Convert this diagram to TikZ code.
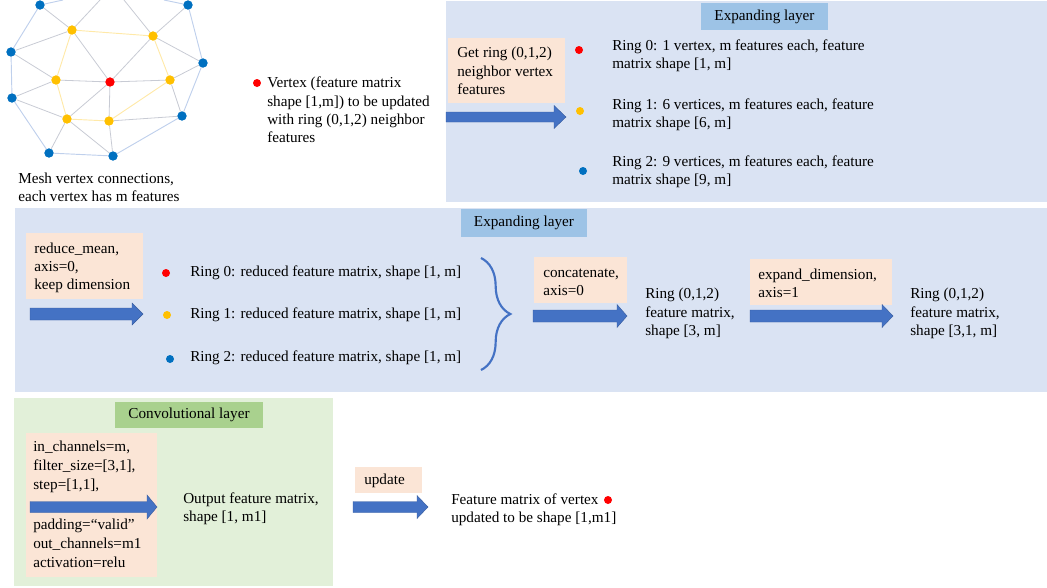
\documentclass[tikz,border=0pt]{standalone}
\usepackage{fontspec}
\setmainfont{Liberation Serif}
\usetikzlibrary{decorations.pathreplacing}
\definecolor{panelblue}{HTML}{DAE3F3}
\definecolor{titleblue}{HTML}{9DC3E6}
\definecolor{peach}{HTML}{FBE5D6}
\definecolor{panelgreen}{HTML}{E2F0D9}
\definecolor{titlegreen}{HTML}{A9D18E}
\definecolor{arrowblue}{HTML}{4472C4}
\definecolor{vred}{HTML}{FF0000}
\definecolor{vyellow}{HTML}{FFC000}
\definecolor{vblue}{HTML}{0070C0}
\definecolor{edgegray}{HTML}{C8CBD4}
\definecolor{edgeblue}{HTML}{BFD0EC}
\definecolor{edgeyellow}{HTML}{FFE9A8}
\tikzset{
  txt/.style={inner sep=0pt, anchor=west, align=left, text=black,
    font=\fontsize{11.4}{13.7}\selectfont},
  ctxt/.style={inner sep=0pt, anchor=center, text=black,
    font=\fontsize{11.4}{13.7}\selectfont},
  dotr/.style={circle, fill=vred, inner sep=0pt, minimum size=6pt},
  doty/.style={circle, fill=vyellow, inner sep=0pt, minimum size=6pt},
  dotb/.style={circle, fill=vblue, inner sep=0pt, minimum size=6pt},
  mr/.style={circle, fill=vred, inner sep=0pt, minimum size=6.8pt},
  my/.style={circle, fill=vyellow, inner sep=0pt, minimum size=6.8pt},
  mb/.style={circle, fill=vblue, inner sep=0pt, minimum size=6.8pt},
  eg/.style={draw=edgegray, line width=0.6pt},
  eb/.style={draw=edgeblue, line width=0.7pt},
  ey/.style={draw=edgeyellow, line width=0.7pt},
  bigarrow/.style={fill=arrowblue, draw=arrowblue!80!black, line width=0.3pt},
}
% block arrow: x-start, x-tip, y-centre, head-start x, shaft half, head half
\newcommand\blockarr[6]{%
  \path[bigarrow] (#1,#3-#5) -- (#4,#3-#5) -- (#4,#3-#6) -- (#2,#3)
    -- (#4,#3+#6) -- (#4,#3+#5) -- (#1,#3+#5) -- cycle;}
\begin{document}
\begin{tikzpicture}[x=0.75pt,y=-0.75pt]
\useasboundingbox (0,0) rectangle (1047,587);

% ---------- panels ----------
\fill[panelblue] (446,1) rectangle (1047,202);
\fill[panelblue] (15,208) rectangle (1047,392);
\fill[panelgreen] (14,398) rectangle (333,586);

% ---------- mesh ----------
\coordinate (t1) at (63,0);
\coordinate (t2) at (100,0);
\coordinate (t3) at (124,0);
\coordinate (t4) at (164,0);
\node[mb] (b1) at (40,5) {};
\node[mb] (b2) at (188,5) {};
\node[mb] (b3) at (11,52) {};
\node[mb] (b4) at (203,63) {};
\node[mb] (b5) at (12,98) {};
\node[mb] (b6) at (182,116) {};
\node[mb] (b7) at (49,153) {};
\node[mb] (b8) at (113,156) {};
\node[my] (y1) at (72,30) {};
\node[my] (y2) at (153,36) {};
\node[my] (y3) at (56,80) {};
\node[my] (y4) at (170,80) {};
\node[my] (y5) at (67,119) {};
\node[my] (y6) at (109,121) {};
\node[mr] (r0) at (110,82) {};
\path[eb] (t1) -- (b1.center) -- (b3.center) -- (b5.center) -- (b7.center) -- (b8.center) -- (b6.center) -- (b4.center) -- (b2.center) -- (t4);
\path[ey] (y1.center) -- (y2.center) -- (y4.center) -- (y6.center) -- (y5.center) -- (y3.center) -- cycle;
\foreach \a/\b in {r0/y1,r0/y2,r0/y3,r0/y4,r0/y5,r0/y6,
  y1/b1,y1/b3,y3/b3,y3/b5,y5/b5,y5/b7,y5/b8,y6/b8,y6/b6,y4/b6,y4/b4,y2/b4,y2/b2}
  \path[eg] (\a) -- (\b);
\path[eg] (y1) -- (t2);
\path[eg] (y2) -- (t3);
% vertices on top of the edges
\foreach \n/\s in {b1/mb,b2/mb,b3/mb,b4/mb,b5/mb,b6/mb,b7/mb,b8/mb,
  y1/my,y2/my,y3/my,y4/my,y5/my,y6/my,r0/mr}
  \node[\s] at (\n) {};

\node[txt] (meshcap) at (18,187) {Mesh vertex connections,\\each vertex has m features};

% ---------- vertex legend ----------
\node[dotr] (vdot) at (257,83) {};
\node[txt] (vtext) at (267,110) {Vertex (feature matrix\\shape [1,m]) to be updated\\with ring (0,1,2) neighbor\\features};

% ---------- top panel ----------
\fill[titleblue] (701,3) rectangle (828,30);
\node[ctxt] (toptitle) at (764.5,17) {Expanding layer};
\fill[peach] (448,38) rectangle (565,103);
\node[txt] (getring) at (457,71) {Get ring (0,1,2)\\neighbor vertex\\features};
\blockarr{446}{566}{117}{554}{5}{11.5}
\node[dotr] (d0) at (579,50) {};
\node[doty] (d1) at (580,111) {};
\node[dotb] (d2) at (583,171) {};
\node[txt] (ring0) at (612,56) {Ring 0: 1 vertex, m features each, feature\\matrix shape [1, m]};
\node[txt] (ring1) at (612,114.5) {Ring 1: 6 vertices, m features each, feature\\matrix shape [6, m]};
\node[txt] (ring2) at (612,172) {Ring 2: 9 vertices, m features each, feature\\matrix shape [9, m]};

% ---------- middle panel ----------
\fill[titleblue] (461,209) rectangle (587,237);
\node[ctxt] (midtitle) at (524,223) {Expanding layer};
\fill[peach] (26,233) rectangle (143,299);
\node[txt] (reduce) at (34,268) {reduce\_mean,\\axis=0,\\keep dimension};
\blockarr{30}{143}{314}{132}{6}{11}
\node[dotr] (m0) at (166,273) {};
\node[doty] (m1) at (167,315) {};
\node[dotb] (m2) at (170,359) {};
\node[txt] (red0) at (190,273) {Ring 0: reduced feature matrix, shape [1, m]};
\node[txt] (red1) at (190,315) {Ring 1: reduced feature matrix, shape [1, m]};
\node[txt] (red2) at (190,358) {Ring 2: reduced feature matrix, shape [1, m]};
\coordinate (brtop) at (481,258);
\coordinate (brbot) at (481,370);
\draw[arrowblue, line width=1.6pt, decorate,
  decoration={brace, amplitude=22pt, aspect=0.5}] (brtop) -- (brbot);

\fill[peach] (534,257) rectangle (627,303);
\node[txt] (concat) at (543,282) {concatenate,\\axis=0};
\blockarr{533}{627}{316}{617}{6}{11.5}
\node[txt] (res1) at (645,313.5) {Ring (0,1,2)\\feature matrix,\\shape [3, m]};
\fill[peach] (750,259) rectangle (892,305);
\node[txt] (expand) at (758,283) {expand\_dimension,\\axis=1};
\blockarr{750}{893}{316}{882}{6}{11.5}
\node[txt] (res2) at (910,313.5) {Ring (0,1,2)\\feature matrix,\\shape [3,1, m]};

% ---------- bottom panel ----------
\fill[titlegreen] (115,402) rectangle (263,428);
\node[ctxt] (convtitle) at (189,415) {Convolutional layer};
\fill[peach] (26,433) rectangle (157,577);
\node[txt, font=\fontsize{11.4}{14.3}\selectfont] (convA) at (33,467) {in\_channels=m,\\filter\_size=[3,1],\\step=[1,1],};
\node[txt, font=\fontsize{11.4}{14.3}\selectfont] (convB) at (33,543) {padding=“valid”\\out\_channels=m1\\activation=relu};
\blockarr{30}{157}{507}{147}{5.5}{12}
\node[txt] (outp) at (183,508.5) {Output feature matrix,\\shape [1, m1]};

\fill[peach] (355,467) rectangle (422,493);
\node[txt] (upd) at (364,481) {update};
\blockarr{353}{428}{507}{417}{5.5}{11.5}
\node[txt] (final) at (451,510) {Feature matrix of vertex\hspace{16pt}\\updated to be shape [1,m1]};
\node[dotr] (fdot) at (608,500) {};
\end{tikzpicture}
\end{document}
